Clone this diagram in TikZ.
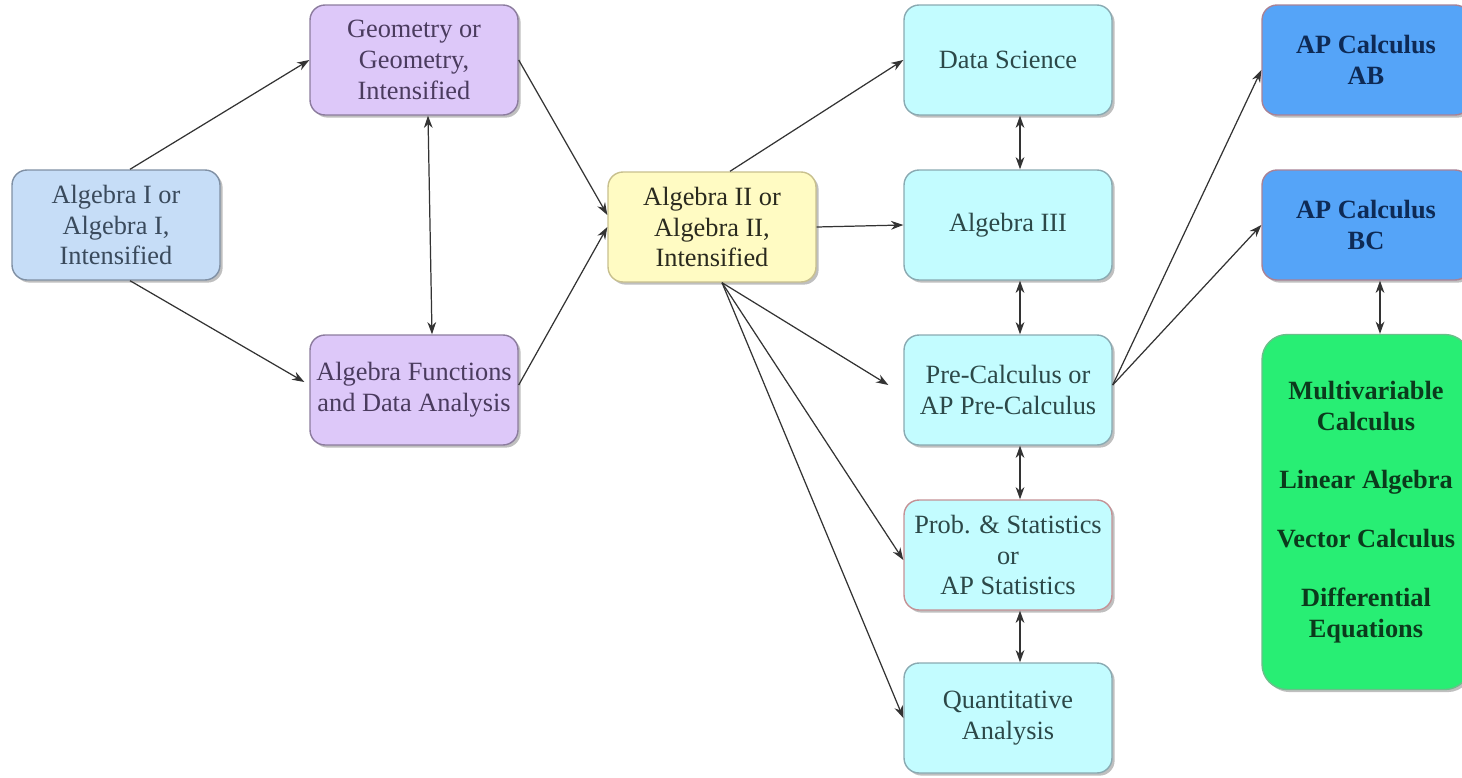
\documentclass[tikz,border=0pt]{standalone}
\usepackage{fontspec}
\setmainfont{Liberation Serif}
\usetikzlibrary{arrows.meta,shadows}
\definecolor{fAlgI}{HTML}{C6DDF7}
\definecolor{dAlgI}{HTML}{8090A4}
\definecolor{tAlgI}{HTML}{3A4A5C}
\definecolor{fPur}{HTML}{DDC8F9}
\definecolor{dPur}{HTML}{8C7C9E}
\definecolor{tPur}{HTML}{4A3B5E}
\definecolor{fYel}{HTML}{FFFBC3}
\definecolor{dYel}{HTML}{C8C08E}
\definecolor{tYel}{HTML}{2A2A1E}
\definecolor{fCyan}{HTML}{C3FCFF}
\definecolor{dCyan}{HTML}{8AAAB2}
\definecolor{tCyan}{HTML}{2C4848}
\definecolor{dPink}{HTML}{C49296}
\definecolor{fBlue}{HTML}{55A4F8}
\definecolor{dBlue}{HTML}{A88296}
\definecolor{tBlue}{HTML}{0E2A55}
\definecolor{fGreen}{HTML}{28EE74}
\definecolor{dGreen}{HTML}{6ABF8A}
\definecolor{tGreen}{HTML}{0B3A1C}
\definecolor{lineC}{HTML}{333333}
\tikzset{
  box/.style={draw, line width=0.8pt, rounded corners=0.3cm, minimum width=4.16cm, minimum height=2.2cm,
    align=center, font=\fontsize{15}{17.5}\selectfont,
    drop shadow={shadow xshift=1.5pt, shadow yshift=-1.5pt, fill=black, opacity=0.25}},
  algI/.style={box, fill=fAlgI, draw=dAlgI, text=tAlgI},
  purp/.style={box, fill=fPur, draw=dPur, text=tPur},
  yel/.style={box, fill=fYel, draw=dYel, text=tYel},
  cyan/.style={box, fill=fCyan, draw=dCyan, text=tCyan},
  apbox/.style={box, fill=fBlue, draw=dBlue, text=tBlue, font=\fontsize{15}{17.5}\selectfont\bfseries},
  grbox/.style={box, fill=fGreen, draw=dGreen, text=tGreen, minimum height=7.1cm, rounded corners=0.5cm,
    font=\fontsize{15}{17.5}\selectfont\bfseries},
  conn/.style={draw=lineC, line width=0.7pt, -{Stealth[length=7pt,width=5pt]}},
  dconn/.style={draw=lineC, line width=0.7pt, {Stealth[length=7pt,width=5pt]}-{Stealth[length=7pt,width=5pt]}},
}
\begin{document}
\begin{tikzpicture}[x=0.02cm, y=-0.02cm]
\useasboundingbox (0,0) rectangle (1462,777);
\node[algI] (alg1) at (116,225) {Algebra I or\\Algebra I,\\Intensified};
\node[purp] (geo) at (414,60) {Geometry or\\Geometry,\\Intensified};
\node[purp] (afda) at (414,390) {Algebra Functions\\and Data Analysis};
\node[yel] (alg2) at (712,227) {Algebra II or\\Algebra II,\\Intensified};
\node[cyan] (ds) at (1008,60) {Data Science};
\node[cyan] (alg3) at (1008,225) {Algebra III};
\node[cyan] (pre) at (1008,390) {Pre-Calculus or\\AP Pre-Calculus};
\node[cyan, draw=dPink] (prob) at (1008,555) {Prob. \& Statistics\\or\\AP Statistics};
\node[cyan] (quant) at (1008,718) {Quantitative\\Analysis};
\node[apbox] (ab) at (1366,60) {AP Calculus\\AB};
\node[apbox] (bc) at (1366,225) {AP Calculus\\BC};
\node[grbox] (adv) at (1366,512) {Multivariable\\Calculus\\[0.56cm]Linear Algebra\\[0.56cm]Vector Calculus\\[0.56cm]Differential\\Equations};

\draw[conn] ([xshift=0.28cm]alg1.north) -- (geo.west);
\draw[conn] ([xshift=0.28cm]alg1.south) -- ([yshift=0.16cm,xshift=-0.1cm]afda.west);
\draw[dconn] ([xshift=0.28cm]geo.south) -- ([xshift=0.36cm]afda.north);
\draw[conn] (geo.east) -- ([yshift=0.24cm]alg2.west);
\draw[conn] ([yshift=0.1cm]afda.east) -- (alg2.west);
\draw[conn] ([xshift=0.36cm]alg2.north) -- (ds.west);
\draw[conn] (alg2.east) -- (alg3.west);
\draw[conn] ([xshift=0.2cm]alg2.south) -- ([xshift=-0.3cm,yshift=0.1cm]pre.west);
\draw[conn] ([xshift=0.2cm]alg2.south) -- ([yshift=-0.1cm]prob.west);
\draw[conn] ([xshift=0.2cm]alg2.south) -- (quant.west);
\draw[dconn] ([xshift=0.24cm]ds.south) -- ([xshift=0.24cm]alg3.north);
\draw[dconn] ([xshift=0.24cm]alg3.south) -- ([xshift=0.24cm]pre.north);
\draw[dconn] ([xshift=0.24cm]pre.south) -- ([xshift=0.24cm]prob.north);
\draw[dconn] ([xshift=0.24cm]prob.south) -- ([xshift=0.24cm]quant.north);
\draw[conn] ([yshift=0.1cm]pre.east) -- ([yshift=-0.2cm]ab.west);
\draw[conn] ([yshift=0.1cm]pre.east) -- (bc.west);
\draw[dconn] ([xshift=0.28cm]bc.south) -- ([xshift=0.28cm]adv.north);
\end{tikzpicture}
\end{document}
